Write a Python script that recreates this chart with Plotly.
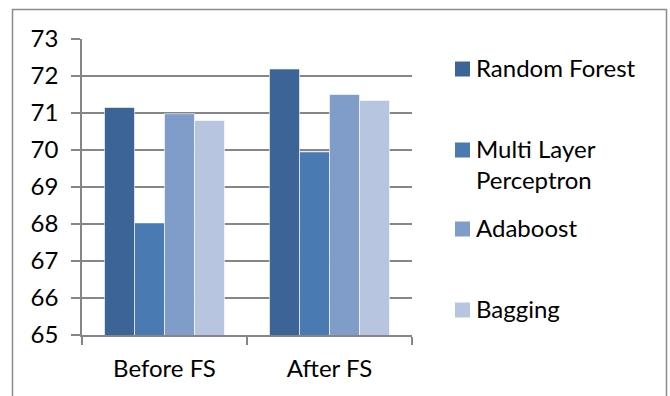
import plotly.graph_objects as go

categories = ["Before FS", "After FS"]
series_names = ["Random Forest", "Multi Layer<br>Perceptron", "Adaboost", "Bagging"]
rf = [71.15, 72.19]
mlp = [68.03, 69.95]
ada = [70.98, 71.50]
bag = [70.80, 71.34]
y_ticks = [65, 66, 67, 68, 69, 70, 71, 72, 73]

colors = ["#3C6496", "#4A7AB2", "#7F9DC8", "#B7C5E0"]
values = [rf, mlp, ada, bag]

FONT = "Lato, Open Sans, sans-serif"
W, H = 670, 396
L, R, T, B = 82, 258, 39, 61
PW, PH = W - L - R, H - T - B


def px_to_paper_x(px):
    return (px - L) / PW


def px_to_paper_y(py):
    return (H - B - py) / PH


fig = go.Figure()
for i, (name, vals) in enumerate(zip(series_names, values)):
    fig.add_trace(go.Bar(
        x=categories, y=vals, name=name,
        marker=dict(color=colors[i], line=dict(color="rgba(255,255,255,0.6)", width=1)),
        showlegend=False,
    ))

# manual legend (entries evenly spaced like the original)
legend_y = [69, 150, 229, 310]
shapes = []
annotations = []
for i, name in enumerate(series_names):
    cy = legend_y[i]
    shapes.append(dict(
        type="rect", xref="paper", yref="paper",
        x0=px_to_paper_x(455), x1=px_to_paper_x(470),
        y0=px_to_paper_y(cy + 7.5), y1=px_to_paper_y(cy - 7.5),
        line=dict(width=0), fillcolor=colors[i],
    ))
    annotations.append(dict(
        xref="paper", yref="paper", x=px_to_paper_x(474), y=px_to_paper_y(cy - 18),
        xanchor="left", yanchor="top", align="left", showarrow=False,
        text=name, font=dict(family=FONT, size=24, color="#000000"),
    ))

shapes.append(dict(
    type="rect", xref="paper", yref="paper",
    x0=px_to_paper_x(12.5), x1=px_to_paper_x(666.5),
    y0=px_to_paper_y(420), y1=px_to_paper_y(9.5),
    line=dict(color="#8C8C8C", width=1.5), fillcolor="rgba(0,0,0,0)", layer="below",
))

fig.update_layout(
    width=W, height=H,
    margin=dict(l=L, r=R, t=T, b=B),
    paper_bgcolor="white", plot_bgcolor="white",
    barmode="group", bargap=0.273, bargroupgap=0,
    font=dict(family=FONT, size=24, color="#000000"),
    showlegend=False,
    xaxis=dict(
        type="category", showline=True, linecolor="#868686", linewidth=1.5,
        ticks="outside", tickson="boundaries", ticklen=8, tickcolor="#868686",
        tickwidth=1.5, showgrid=False, tickfont=dict(size=24), automargin=False,
        ticklabelstandoff=11,
    ),
    yaxis=dict(
        range=[65, 73], tickvals=y_ticks, showline=True, linecolor="#868686",
        linewidth=1.5, ticks="outside", ticklen=9, tickcolor="#868686", tickwidth=1.5,
        showgrid=True, gridcolor="#868686", gridwidth=1.5, zeroline=False,
        tickfont=dict(size=24), ticklabelstandoff=8, automargin=False,
    ),
    shapes=shapes,
    annotations=annotations,
)

fig.write_html(
    "out.html",
    config={"displayModeBar": False},
    post_script="document.body.style.margin='0';document.body.style.overflow='hidden';",
)
